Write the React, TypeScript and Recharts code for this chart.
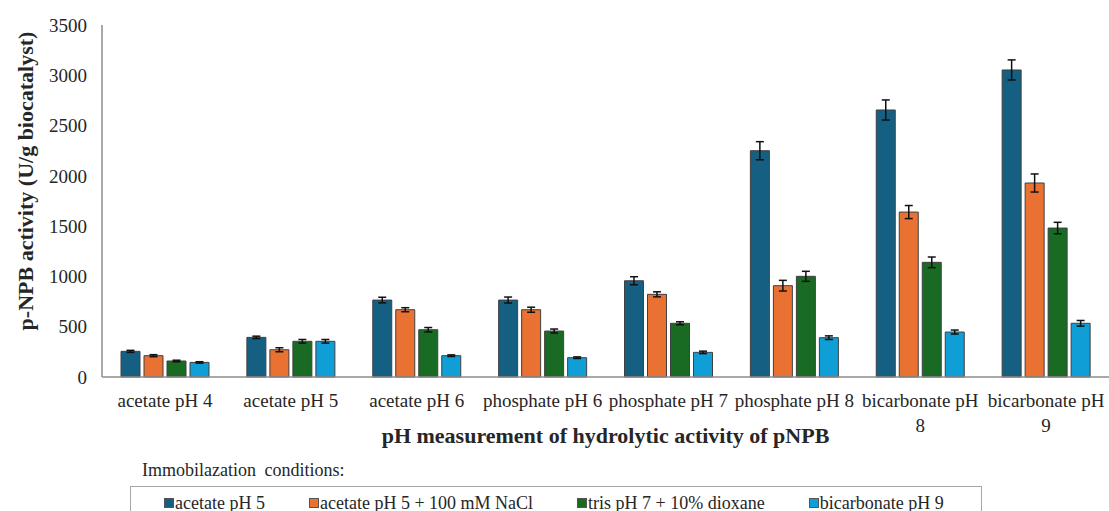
import { BarChart, Bar, XAxis, YAxis, Legend, ErrorBar } from 'recharts';

const categories = [
  'acetate pH 4',
  'acetate pH 5',
  'acetate pH 6',
  'phosphate pH 6',
  'phosphate pH 7',
  'phosphate pH 8',
  'bicarbonate pH 8',
  'bicarbonate pH 9',
];

// activity per immobilization buffer (U/g biocatalyst) and standard deviation
const acetate5 = [255, 394, 765, 765, 957, 2250, 2655, 3053];
const acetate5Err = [10, 12, 28, 30, 40, 90, 100, 100];
const acetate5Nacl = [212, 271, 669, 669, 822, 908, 1640, 1929];
const acetate5NaclErr = [10, 20, 20, 25, 25, 53, 65, 90];
const trisDioxane = [159, 355, 470, 457, 534, 1001, 1140, 1481];
const trisDioxaneErr = [8, 18, 22, 20, 15, 50, 53, 57];
const bicarbonate9 = [145, 355, 212, 192, 245, 391, 447, 534];
const bicarbonate9Err = [7, 18, 8, 8, 12, 18, 20, 28];

const yTicks = [0, 500, 1000, 1500, 2000, 2500, 3000, 3500];

const series = [
  { key: 'a5', name: 'acetate pH 5', color: '#156082' },
  { key: 'a5n', name: 'acetate pH 5 + 100 mM NaCl', color: '#E97132' },
  { key: 'tris', name: 'tris pH 7 + 10% dioxane', color: '#196B24' },
  { key: 'bic', name: 'bicarbonate pH 9', color: '#0F9ED5' },
];

const data = categories.map((name, i) => ({
  name,
  a5: acetate5[i],
  a5Err: acetate5Err[i],
  a5n: acetate5Nacl[i],
  a5nErr: acetate5NaclErr[i],
  tris: trisDioxane[i],
  trisErr: trisDioxaneErr[i],
  bic: bicarbonate9[i],
  bicErr: bicarbonate9Err[i],
}));

const FONT = "'Liberation Serif', 'Times New Roman', serif";
const TEXT = '#262626';
const AXIS = '#8c8c8c';

// long category names don't fit the slot, so the last word drops to a second line
function splitLabel(label: string): string[] {
  if (label.length <= 15) return [label];
  const cut = label.lastIndexOf(' ');
  return [label.slice(0, cut), label.slice(cut + 1)];
}

function CategoryTick(props: any) {
  const { x, y, payload } = props;
  const lines = splitLabel(String(payload.value));
  return (
    <text x={x} y={y} textAnchor="middle" fontSize={19} fontFamily={FONT} fill={TEXT}>
      {lines.map((line, i) => (
        <tspan key={i} x={x} dy={i === 0 ? 13.5 : 25}>
          {line}
        </tspan>
      ))}
    </text>
  );
}

function YTitle(props: any) {
  const { viewBox } = props;
  const cy = viewBox.y + viewBox.height / 2 - 20;
  return (
    <text
      transform={`translate(33, ${cy}) rotate(-90)`}
      textAnchor="middle"
      fontFamily={FONT}
      fontSize={22}
      fontWeight="bold"
      fill={TEXT}
    >
      p-NPB activity (U/g biocatalyst)
    </text>
  );
}

function LegendBox() {
  return (
    <div style={{ position: 'relative', height: 53, fontFamily: FONT, fontSize: 18, color: TEXT, lineHeight: '20px' }}>
      <div style={{ position: 'absolute', left: 142, top: 2, wordSpacing: 4 }}>Immobilazation conditions:</div>
      <div
        style={{
          position: 'absolute',
          left: 130,
          top: 28,
          width: 852,
          height: 34,
          border: '1px solid #a6a6a6',
          boxSizing: 'border-box',
          display: 'flex',
          alignItems: 'flex-start',
          paddingLeft: 33,
          paddingTop: 6,
          whiteSpace: 'nowrap',
        }}
      >
        {series.map((s) => (
          <div key={s.key} style={{ display: 'flex', alignItems: 'center', marginRight: 44 }}>
            <span style={{ display: 'inline-block', width: 8, height: 8, background: s.color, border: '0.5px solid #555', marginRight: 1 }} />
            <span>{s.name}</span>
          </div>
        ))}
      </div>
    </div>
  );
}

export default function App() {
  return (
    <div style={{ position: 'absolute', left: 0, top: 0, background: '#fff' }}>
      <BarChart
        width={1109}
        height={511}
        data={data}
        margin={{ top: 25, right: 0, bottom: 0, left: 0 }}
        barSize={19}
        barGap={4}
      >
        <XAxis
          dataKey="name"
          height={81}
          interval={0}
          stroke={AXIS}
          strokeWidth={1.5}
          tickLine={false}
          tickSize={0}
          tickMargin={16}
          tick={<CategoryTick />}
          label={{
            value: 'pH measurement of hydrolytic activity of pNPB',
            position: 'insideBottom',
            offset: 15,
            fontFamily: FONT,
            fontSize: 22,
            fontWeight: 'bold',
            fill: TEXT,
          }}
        />
        <YAxis
          width={102}
          domain={[0, 3500]}
          ticks={yTicks}
          interval={0}
          stroke={AXIS}
          strokeWidth={1.5}
          tickLine={false}
          tickSize={0}
          tickMargin={15}
          tick={{ fill: TEXT, fontSize: 19, fontFamily: FONT }}
          label={<YTitle />}
        />
        <Legend verticalAlign="bottom" wrapperStyle={{ left: 0, width: 1109 }} content={() => <LegendBox />} />
        {series.map((s) => (
          <Bar
            key={s.key}
            dataKey={s.key}
            name={s.name}
            fill={s.color}
            stroke="#404040"
            strokeWidth={1}
            isAnimationActive={false}
          >
            <ErrorBar dataKey={`${s.key}Err`} width={4} stroke="#111" strokeWidth={1.5} direction="y" />
          </Bar>
        ))}
      </BarChart>
    </div>
  );
}
